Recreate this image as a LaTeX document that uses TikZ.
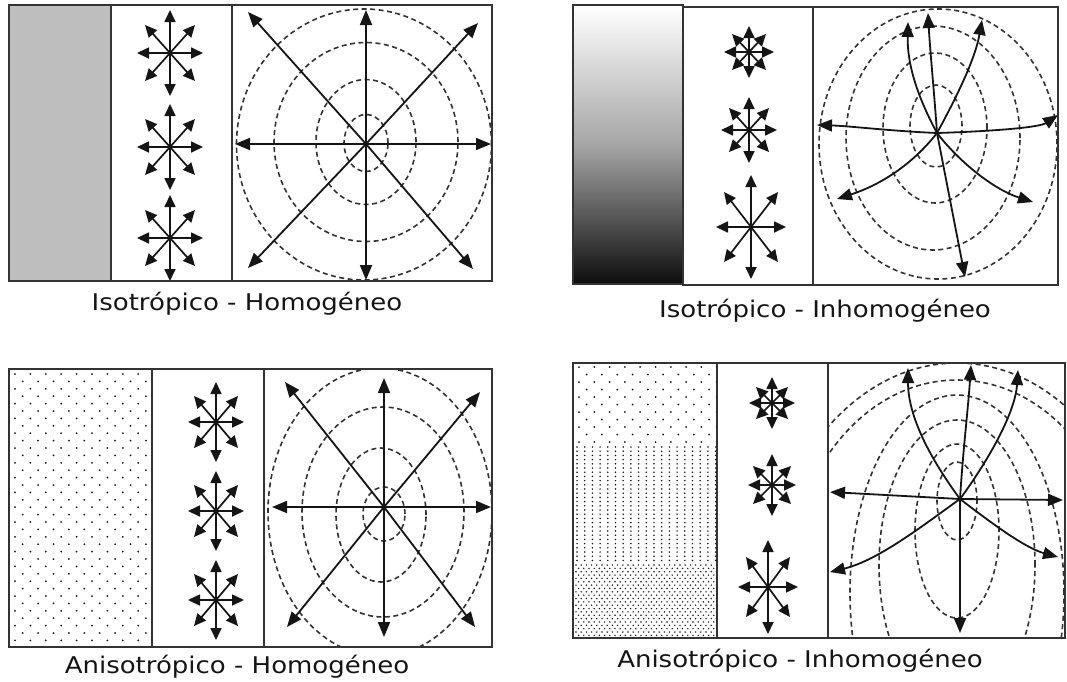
\documentclass[tikz,border=0pt]{standalone}
\usepackage{fontspec}
\usepackage{graphicx}
\newfontfamily\capfont{DejaVu Sans}
\usetikzlibrary{arrows.meta}
\definecolor{ink}{HTML}{151515}
\definecolor{dashc}{HTML}{333333}
\definecolor{framec}{HTML}{333333}
\definecolor{panelgray}{RGB}{190,190,190}
\tikzset{
 frame/.style={draw=framec, line width=1.8pt},
 sarrow/.style={draw=ink, line width=1.7pt, -{Triangle[length=12pt,width=11pt]}},
 warrow/.style={draw=ink, line width=1.8pt, -{Triangle[length=15pt,width=12pt]}},
 wave/.style={draw=dashc, line width=1.6pt, dash pattern=on 5pt off 3.5pt},
 caption/.style={anchor=base, font=\capfont\fontsize{23}{23}\selectfont, text=ink, inner sep=0pt}
}
\newcommand\wavestar[7]{%
 \coordinate (#1) at (#2,#3);
 \coordinate (#1-n) at (#2,#3-#4);
 \coordinate (#1-s) at (#2,#3+#4);
 \coordinate (#1-w) at (#2-#5,#3);
 \coordinate (#1-e) at (#2+#5,#3);
 \coordinate (#1-nw) at (#2-#6,#3-#7);
 \coordinate (#1-ne) at (#2+#6,#3-#7);
 \coordinate (#1-sw) at (#2-#6,#3+#7);
 \coordinate (#1-se) at (#2+#6,#3+#7);
 \foreach \d in {n,s,e,w,ne,nw,se,sw} {\draw[sarrow] (#1) -- (#1-\d);}
}
\begin{document}
\begin{tikzpicture}[x=1pt,y=-1pt]
\useasboundingbox (0,0) rectangle (1067,681);
\fill[white] (0,0) rectangle (1067,681);

% ================= Panel 1: Isotropico - Homogeneo =================
\fill[panelgray] (9,5) rectangle (111,281);
\wavestar{a1}{170}{53}{43}{33}{25}{28}
\wavestar{a2}{170}{147}{43}{33}{25}{28}
\wavestar{a3}{170}{238}{43}{33}{25}{28}
\begin{scope}
 \clip (232,5) rectangle (492,281);
 \draw[wave] (366,143) ellipse [x radius=22pt, y radius=28.5pt];
 \draw[wave] (366,142) ellipse [x radius=50pt, y radius=62.5pt];
 \draw[wave] (366,142) ellipse [x radius=92pt, y radius=99.5pt];
 \draw[wave] (364,144.5) ellipse [x radius=127.5pt, y radius=135.5pt];
\end{scope}
\coordinate (c1) at (366,144);
\coordinate (c1-n) at (366,10);
\coordinate (c1-s) at (366,280);
\coordinate (c1-w) at (235,144);
\coordinate (c1-e) at (491,144);
\coordinate (c1-nw) at (248,12);
\coordinate (c1-ne) at (478,23);
\coordinate (c1-sw) at (248,268);
\coordinate (c1-se) at (473,269);
\foreach \d in {n,s,e,w,ne,nw,se,sw} {\draw[warrow] (c1) -- (c1-\d);}
\draw[frame] (9,5) rectangle (492,281);
\draw[frame] (111,5) -- (111,281);
\draw[frame] (232,5) -- (232,281);
\node[caption] (t1) at (247,310) {\scalebox{1.13}[1]{Isotrópico - Homogéneo}};

% ================= Panel 2: Isotropico - Inhomogeneo =================
\shade[top color=white, bottom color=black!95, middle color=black!35] (573,5) rectangle (683,284);
\wavestar{b1}{749}{52}{26}{25}{17}{18}
\wavestar{b2}{749}{130}{33}{28}{20}{22}
\wavestar{b3}{751}{227}{52}{35}{27}{35}
\begin{scope}
 \clip (813,7) rectangle (1058,285);
 \draw[wave] (936,126) ellipse [x radius=26pt, y radius=41pt];
 \draw[wave] (935,128) ellipse [x radius=52pt, y radius=75pt];
 \draw[wave] (933,138) ellipse [x radius=87pt, y radius=112pt];
 \draw[wave] (938,144) ellipse [x radius=119pt, y radius=135pt];
\end{scope}
\coordinate (c2) at (937,133);
\coordinate (c2-n) at (928,13);
\coordinate (c2-nw) at (908,22);
\coordinate (c2-ne) at (982,20);
\coordinate (c2-w) at (817,125);
\coordinate (c2-e) at (1058,115);
\coordinate (c2-sw) at (837,199);
\coordinate (c2-se) at (1033,202);
\coordinate (c2-s) at (965,277);
\draw[warrow] (c2) .. controls (934,90) and (930,50) .. (c2-n);
\draw[warrow] (c2) .. controls (922,105) and (907,70) .. (c2-nw);
\draw[warrow] (c2) .. controls (955,100) and (975,60) .. (c2-ne);
\draw[warrow] (c2) .. controls (890,131) and (850,126) .. (c2-w);
\draw[warrow] (c2) .. controls (1000,131) and (1040,127) .. (c2-e);
\draw[warrow] (c2) .. controls (912,165) and (880,185) .. (c2-sw);
\draw[warrow] (c2) .. controls (960,163) and (995,190) .. (c2-se);
\draw[warrow] (c2) -- (c2-s);
\draw[frame] (573,5) rectangle (683,284);
\draw[frame] (683,7) rectangle (813,285);
\draw[frame] (813,7) rectangle (1058,285);
\node[caption] (t2) at (825,317) {\scalebox{1.13}[1]{Isotrópico - Inhomogéneo}};

% ================= Panel 3: Anisotropico - Homogeneo =================
\begin{scope}
 \clip (10,370) rectangle (151,646);
 \foreach \r in {0,...,37} {\foreach \c in {0,...,9} {
   \fill[ink] ({15+\c*15.4+mod(\r,2)*7.7},{374+\r*7.4}) circle [radius=1pt];}}
\end{scope}
\wavestar{d1}{216}{422}{40}{28}{22}{26}
\wavestar{d2}{216}{511}{40}{28}{22}{26}
\wavestar{d3}{216}{600}{40}{28}{22}{26}
\begin{scope}
 \clip (264,369) rectangle (492,647);
 \draw[wave] (384,514) ellipse [x radius=21pt, y radius=27pt];
 \draw[wave] (381,515) ellipse [x radius=45pt, y radius=67pt];
 \draw[wave] (383,512) ellipse [x radius=81pt, y radius=105pt];
 \draw[wave] (380,512) ellipse [x radius=112pt, y radius=144pt];
\end{scope}
\coordinate (c3) at (384,507);
\coordinate (c3-n) at (384,378);
\coordinate (c3-s) at (384,637);
\coordinate (c3-w) at (272,507);
\coordinate (c3-e) at (491,507);
\coordinate (c3-nw) at (285,382);
\coordinate (c3-ne) at (480,392);
\coordinate (c3-sw) at (287,627);
\coordinate (c3-se) at (475,627);
\foreach \d in {n,s,e,w,ne,nw,se,sw} {\draw[warrow] (c3) -- (c3-\d);}
\draw[frame] (9,369) rectangle (492,647);
\draw[frame] (152,369) -- (152,647);
\draw[frame] (264,369) -- (264,647);
\node[caption] (t3) at (237,673) {\scalebox{1.13}[1]{Anisotrópico - Homogéneo}};

% ================= Panel 4: Anisotropico - Inhomogeneo =================
\begin{scope}
 \clip (574,364) rectangle (716,637);
 \foreach \r in {0,...,10} {\foreach \c in {0,...,9} {
   \fill[ink] ({579+\c*15.3+mod(\r,2)*7.65},{367+\r*7.5}) circle [radius=1pt];}}
 \foreach \r in {0,...,27} {\foreach \c in {0,...,18} {
   \fill[ink] ({577+\c*7.7},{447+\r*4.2}) circle [radius=0.85pt];}}
 \foreach \r in {0,...,22} {\foreach \c in {0,...,27} {
   \fill[ink] ({576+\c*5.2+mod(\r,2)*2.6},{565+\r*3.35}) circle [radius=0.8pt];}}
\end{scope}
\wavestar{e1}{772}{403}{26}{23}{16}{16}
\wavestar{e2}{772}{485}{31}{24}{19}{19}
\wavestar{e3}{768}{587}{47}{30}{22}{30}
\begin{scope}
 \clip (828,363) rectangle (1065,638);
 \draw[wave] (957,501) ellipse [x radius=20pt, y radius=39pt];
 \draw[wave] (957,531) ellipse [x radius=42pt, y radius=87pt];
 \draw[wave] (957,565) ellipse [x radius=78pt, y radius=145pt];
 \draw[wave] (957,593) ellipse [x radius=107pt, y radius=198pt];
 \draw[wave] (957,595) ellipse [x radius=170pt, y radius=215pt];
 \draw[wave] (957,634) ellipse [x radius=200pt, y radius=271pt];
\end{scope}
\coordinate (c4) at (960,499);
\coordinate (c4-n) at (971,365);
\coordinate (c4-nw) at (908,368);
\coordinate (c4-ne) at (1018,370);
\coordinate (c4-w) at (830,492);
\coordinate (c4-e) at (1063,500);
\coordinate (c4-sw) at (830,572);
\coordinate (c4-se) at (1058,557);
\coordinate (c4-s) at (960,633);
\draw[warrow] (c4) .. controls (963,450) and (968,410) .. (c4-n);
\draw[warrow] (c4) .. controls (935,465) and (908,420) .. (c4-nw);
\draw[warrow] (c4) .. controls (985,465) and (1015,415) .. (c4-ne);
\draw[warrow] (c4) -- (c4-w);
\draw[warrow] (c4) -- (c4-e);
\draw[warrow] (c4) .. controls (930,520) and (880,560) .. (c4-sw);
\draw[warrow] (c4) .. controls (990,522) and (1025,548) .. (c4-se);
\draw[warrow] (c4) -- (c4-s);
\draw[frame] (573,363) rectangle (717,638);
\draw[frame] (717,363) rectangle (828,638);
\draw[frame] (828,363) rectangle (1065,638);
\node[caption] (t4) at (800,667) {\scalebox{1.13}[1]{Anisotrópico - Inhomogéneo}};
\end{tikzpicture}
\end{document}
